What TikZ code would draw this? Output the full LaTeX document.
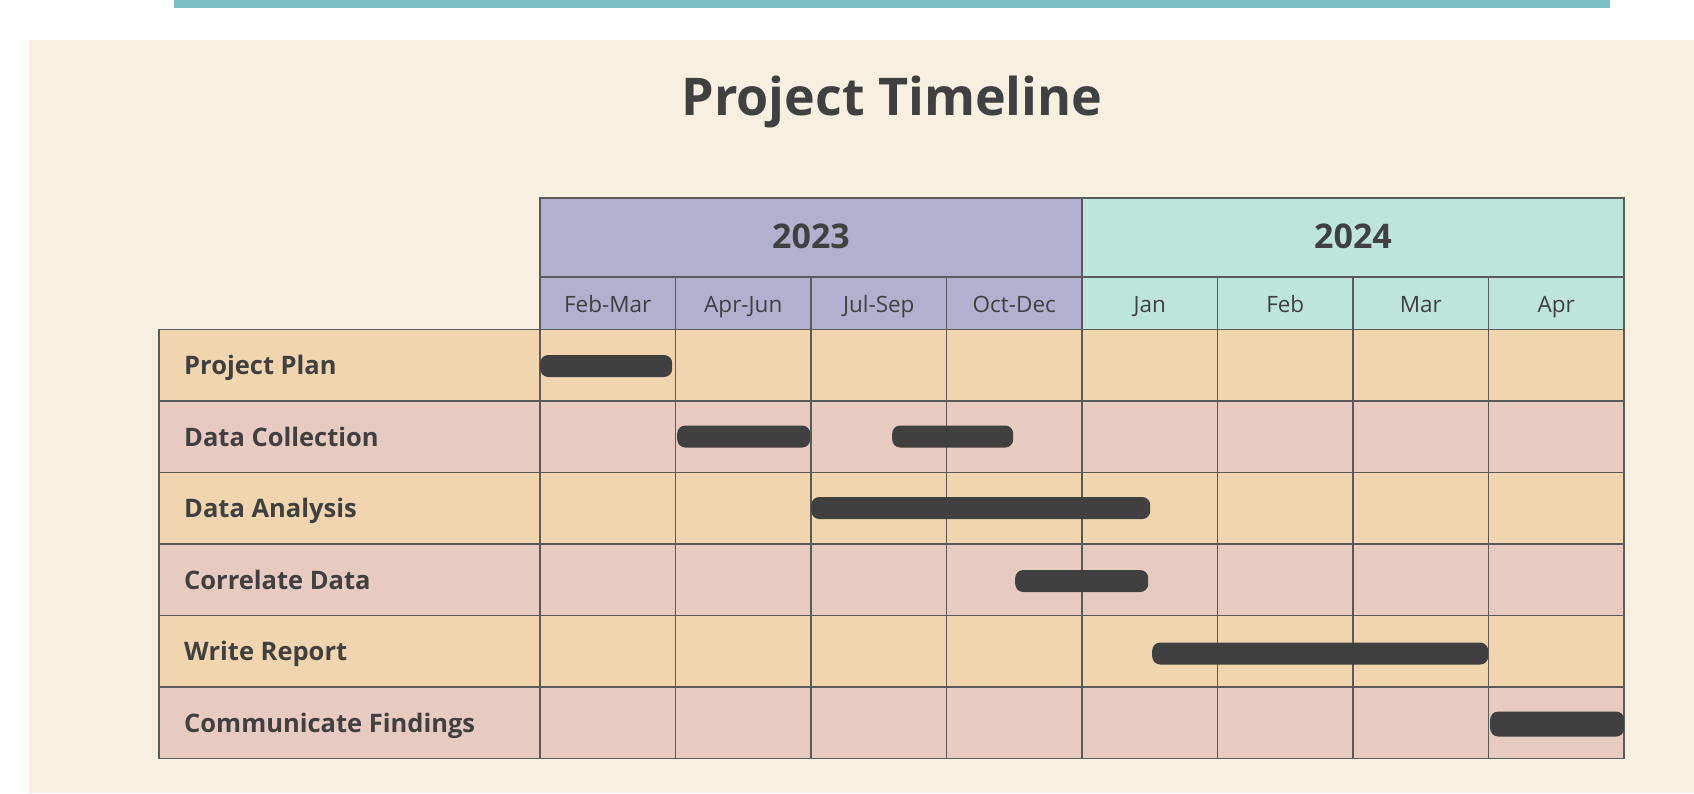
\documentclass[tikz,border=0pt]{standalone}
\usepackage{fontspec}
\setmainfont{Open Sans}
\definecolor{bg}{HTML}{F7EFE0}
\definecolor{topbar}{HTML}{7BBFC4}
\definecolor{yrA}{HTML}{B1B1CF}
\definecolor{yrB}{HTML}{BDE5DC}
\definecolor{rowA}{HTML}{F0D5AF}
\definecolor{rowB}{HTML}{E8CBC0}
\definecolor{ink}{HTML}{404040}
\definecolor{gridc}{HTML}{5A5A5A}
\begin{document}
\begin{tikzpicture}[x=1pt,y=-1pt,
  cell/.style={draw=gridc, line width=1.4pt},
  lbl/.style={anchor=west, text=ink, font=\fontsize{25.5}{28}\selectfont\bfseries, inner sep=0pt},
  mon/.style={text=ink, font=\fontsize{22.5}{24}\selectfont, inner sep=0pt},
  yr/.style={text=ink, font=\fontsize{34}{38}\selectfont\bfseries, inner sep=0pt},
  ttl/.style={text=ink, font=\fontsize{52}{58}\selectfont\bfseries, inner sep=0pt},
  bar/.style={fill=ink, rounded corners=8pt, draw=none, inner sep=0pt, minimum height=22pt, anchor=west}]
\useasboundingbox (0,0) rectangle (1694,793);
\fill[white] (0,0) rectangle (1694,793);
\fill[topbar] (174,0) rectangle (1610,8);
\fill[bg] (29,40) rectangle (1694,793);
\node[ttl] (title) at (892,102) {Project Timeline};
% year header
\draw[cell, fill=yrA] (540,198) rectangle (1082,277);
\draw[cell, fill=yrB] (1082,198) rectangle (1624,277);
\node[yr, text depth=0pt, anchor=base] (y2023) at (811,248) {2023};
\node[yr, text depth=0pt, anchor=base] (y2024) at (1353,248) {2024};
% months
\foreach \m [count=\i from 0] in {Feb-Mar,Apr-Jun,Jul-Sep,Oct-Dec,Jan,Feb,Mar,Apr}{
  \pgfmathsetmacro{\xa}{540+135.5*\i}
  \pgfmathsetmacro{\xb}{\xa+135.5}
  \pgfmathsetmacro{\xc}{\xa+67.75}
  \ifnum\i<4 \def\fc{yrA}\else\def\fc{yrB}\fi
  \draw[cell, fill=\fc] (\xa,277) rectangle (\xb,329.5);
  \node[mon, text depth=0pt, anchor=base] (m\i) at (\xc,312) {\m};
}
% rows
\foreach \t [count=\r from 0] in {Project Plan,Data Collection,Data Analysis,Correlate Data,Write Report,Communicate Findings}{
  \pgfmathsetmacro{\ya}{329.5+71.5*\r}
  \pgfmathsetmacro{\yb}{\ya+71.5}
  \pgfmathsetmacro{\yc}{\ya+45}
  \ifodd\r \def\rc{rowB}\else\def\rc{rowA}\fi
  \draw[cell, fill=\rc] (159,\ya) rectangle (540,\yb);
  \foreach \c in {0,...,7}{
    \pgfmathsetmacro{\xa}{540+135.5*\c}
    \pgfmathsetmacro{\xb}{\xa+135.5}
    \draw[cell, fill=\rc] (\xa,\ya) rectangle (\xb,\yb);
  }
  \node[lbl, anchor=base west, text depth=0pt] (l\r) at (184,\yc) {\t};
}
% bars
\node[bar, minimum width=132pt] (b1) at (540,366) {};
\node[bar, minimum width=133pt] (b2a) at (677,436.5) {};
\node[bar, minimum width=121pt] (b2b) at (892,436.5) {};
\node[bar, minimum width=339pt] (b3) at (811,508) {};
\node[bar, minimum width=133pt] (b4) at (1015,581) {};
\node[bar, minimum width=336pt] (b5) at (1152,653.5) {};
\node[bar, minimum width=134pt, minimum height=25pt] (b6) at (1490,724) {};
\end{tikzpicture}
\end{document}
